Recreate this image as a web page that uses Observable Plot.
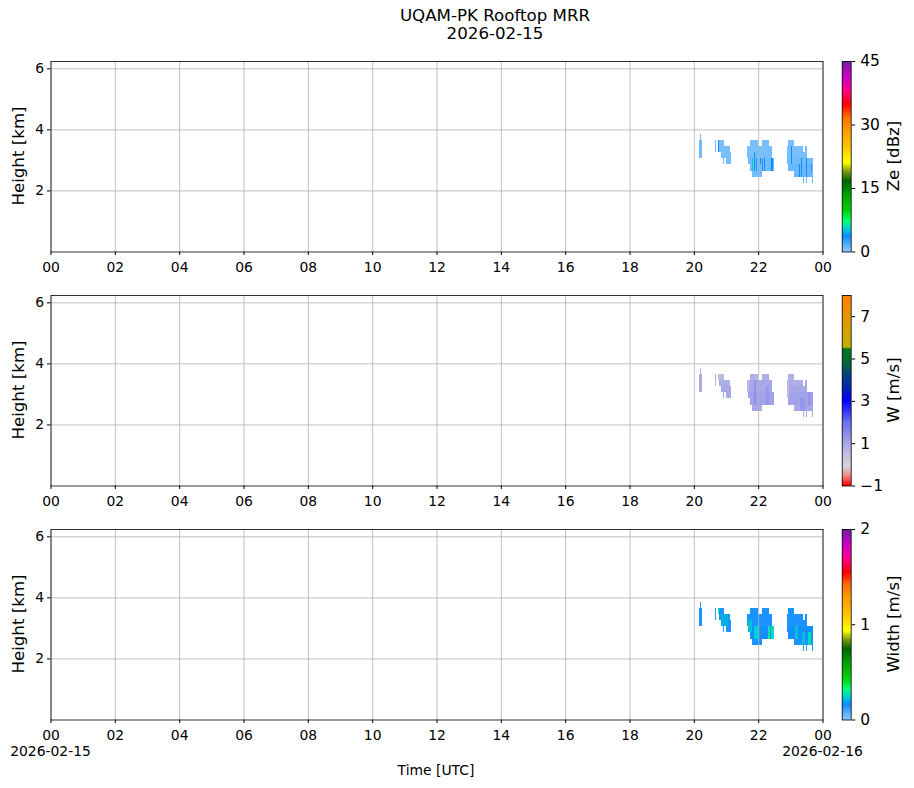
<!DOCTYPE html>
<html><head><meta charset="utf-8">
<script src="https://cdn.jsdelivr.net/npm/d3@7"></script>
<script src="https://cdn.jsdelivr.net/npm/@observablehq/plot@0.6"></script>
<style>
body{margin:0;background:#fff;}
#fig{position:relative;width:914px;height:788px;font-family:"DejaVu Sans",sans-serif;color:#000;overflow:hidden;background:#fff;}
#fig svg{position:absolute;overflow:visible;}
.lbl{position:absolute;white-space:nowrap;line-height:1;}
.c{transform:translate(-50%,-50%);}
.rot{transform:translate(-50%,-50%) rotate(-90deg);}
</style></head><body><div id="fig"></div>
<script>
// ---------- axis ticks ----------
const hourTicks = [0,2,4,6,8,10,12,14,16,18,20,22,24];
const heightTicks = [2,4,6];
const zeTicks = [0,15,30,45];
const wTicks = [-1,1,3,5,7];
const swTicks = [0,1,2];
const dateLeft = "2026-02-15";
const dateRight = "2026-02-16";
const titleLines = ["UQAM-PK Rooftop MRR", "2026-02-15"];

// ---------- echo runs (hour start, hour end, bottom km, top km) with values ----------
const runStart = [20.19,20.17,20.66,20.74,20.77,20.84,20.92,21.00,21.75,22.12,21.64,21.64,21.69,21.75,21.80,22.92,22.89,23.46,22.89,22.89,22.92,23.11,23.40,23.50,23.60,23.68];
const runEnd   = [20.23,20.26,20.68,20.95,21.12,21.17,20.95,21.17,21.98,22.35,22.42,22.42,22.49,22.49,22.11,23.11,23.40,23.51,23.51,23.71,23.71,23.71,23.42,23.52,23.62,23.70];
const runBottom= [3.65,3.05,3.25,3.45,3.25,3.05,2.85,2.85,3.45,3.45,3.25,3.05,2.85,2.65,2.45,3.45,3.25,3.25,3.05,2.85,2.65,2.45,2.25,2.25,2.25,2.25];
const runTop   = [3.85,3.65,3.65,3.65,3.45,3.25,3.05,3.05,3.65,3.65,3.45,3.25,3.05,2.85,2.65,3.65,3.45,3.45,3.25,3.05,2.85,2.65,2.45,2.45,2.45,2.45];
const runZe    = [1.0,0.8,1.0,0.6,0.6,0.6,0.8,0.6,0.6,0.6,0.6,0.6,0.8,0.8,0.8,0.6,0.6,0.6,0.6,0.8,1.0,1.0,1.0,1.0,1.0,1.0];
const runW     = [0.8,0.9,0.8,0.6,0.9,1.0,1.0,1.0,0.8,0.9,1.0,1.0,1.1,1.1,1.0,0.8,0.9,1.0,1.0,1.1,1.1,1.0,1.0,1.0,1.0,1.0];
const runSW    = [0.12,0.14,0.12,0.14,0.14,0.14,0.14,0.14,0.14,0.14,0.14,0.14,0.15,0.15,0.14,0.14,0.14,0.14,0.14,0.15,0.15,0.14,0.14,0.14,0.14,0.14];

// ---------- local stripes drawn over the runs ----------
const zePatchStart = [20.21,20.74,21.77,21.81,21.88,21.94,22.06,22.12,22.19,22.26,22.33,22.40,22.27,23.03,23.14,23.20,23.28,23.34,23.42,23.50,23.57,23.63];
const zePatchEnd   = [20.23,20.77,21.79,21.85,21.90,21.96,22.08,22.14,22.21,22.28,22.35,22.45,22.29,23.05,23.16,23.22,23.30,23.37,23.44,23.53,23.59,23.66];
const zePatchBottom= [3.25,3.25,2.65,2.65,2.65,2.65,2.85,2.65,2.65,2.65,2.65,2.65,3.05,2.85,2.65,2.65,2.45,2.45,2.45,2.45,2.45,2.65];
const zePatchTop   = [3.45,3.65,3.65,3.05,3.25,3.05,3.05,3.05,3.05,3.05,3.05,3.05,3.45,3.45,3.05,3.05,2.85,3.05,2.85,3.05,2.85,2.85];
const zePatchValue = [3.0,3.5,3.5,5.5,3.5,3.0,3.5,3.0,3.5,3.0,3.5,3.5,2.5,3.5,3.0,3.5,3.5,3.5,3.0,3.5,3.5,3.0];

const wPatchStart = [21.64,21.86,22.25,22.89,23.30,23.55];
const wPatchEnd   = [21.70,21.92,22.35,22.95,23.45,23.65];
const wPatchBottom= [3.05,2.65,2.65,2.85,2.45,2.65];
const wPatchTop   = [3.45,3.45,3.25,3.45,2.85,3.05];
const wPatchValue = [0.6,1.4,1.3,0.6,1.3,1.3];

const swPatchStart = [20.74,20.84,21.69,21.86,22.30,22.40,23.15,23.35,23.55];
const swPatchEnd   = [20.77,21.05,21.80,22.02,22.36,22.49,23.25,23.45,23.65];
const swPatchBottom= [3.45,3.05,2.85,2.65,2.65,2.65,2.65,2.45,2.45];
const swPatchTop   = [3.65,3.45,3.25,3.05,3.05,3.05,3.05,2.85,2.85];
const swPatchValue = [0.32,0.20,0.22,0.24,0.28,0.25,0.22,0.22,0.26];

// ---------- colour maps ----------
const spectrumFrac = [0,0.04,0.08,0.125,0.16,0.22,0.30,0.37,0.42,0.467,0.55,0.64,0.71,0.77,0.85,0.92,1];
const spectrumColors = ["#8cc8ff","#50acff","#0a8cff","#00d8c8","#00ff70","#00d000","#00a000","#006400","#7a9a10","#ffff00","#ffc400","#ff9a00","#ff6a00","#ff0000","#ff0090","#c800c8","#7020a0"];
const wStops = [-1,-0.5,-0.1,0.4,1.0,2.0,3.0,3.8,4.4,4.6,5.45,5.55,6.5,8];
const wColors = ["#ff0000","#f09090","#d4d4d4","#c4c4e0","#a8a8e8","#6c6cf4","#0000ff","#0030a0","#004a70","#006040","#007a20","#c0b000","#d8a000","#ff8000"];

const zeDomain = [0,45], swDomain = [0,2], wDomain = [-1,8];
const zeColor = {type:"linear", domain: spectrumFrac.map(f => zeDomain[0] + f*(zeDomain[1]-zeDomain[0])), range: spectrumColors, clamp:true};
const swColor = {type:"linear", domain: spectrumFrac.map(f => swDomain[0] + f*(swDomain[1]-swDomain[0])), range: spectrumColors, clamp:true};
const wColor  = {type:"linear", domain: wStops, range: wColors, clamp:true};

// ---------- build records ----------
function records(t0, t1, h0, h1, v) {
  return t0.map((_, i) => ({t0: t0[i], t1: t1[i], h0: h0[i], h1: h1[i], v: v[i]}));
}
const zeRecs = records(runStart, runEnd, runBottom, runTop, runZe).concat(records(zePatchStart, zePatchEnd, zePatchBottom, zePatchTop, zePatchValue));
const wRecs  = records(runStart, runEnd, runBottom, runTop, runW).concat(records(wPatchStart, wPatchEnd, wPatchBottom, wPatchTop, wPatchValue));
const swRecs = records(runStart, runEnd, runBottom, runTop, runSW).concat(records(swPatchStart, swPatchEnd, swPatchBottom, swPatchTop, swPatchValue));

// ---------- layout ----------
const fig = document.getElementById("fig");
const FONT = "DejaVu Sans";
const frameTops = [61, 295, 529];
const MT = 10, MB = 30.5, H = 231;

function addLabel(text, x, y, size, cls) {
  const d = document.createElement("div");
  d.className = "lbl " + cls;
  d.style.left = x + "px"; d.style.top = y + "px"; d.style.fontSize = size + "px";
  d.textContent = text;
  fig.appendChild(d);
}

function panel(recs, colorOpts, top) {
  const svg = Plot.plot({
    width: 830, height: H, marginLeft: 50.5, marginRight: 7.5, marginTop: MT, marginBottom: MB,
    x: {domain: [0, 24], label: null},
    y: {domain: [0, 6.24], label: null},
    color: colorOpts,
    style: {fontFamily: FONT, fontSize: "13.9px", color: "#000", background: "transparent"},
    marks: [
      Plot.rect(recs, {x1: "t0", x2: "t1", y1: "h0", y2: "h1", fill: "v", shapeRendering: "crispEdges"}),
      Plot.gridX(hourTicks, {stroke: "#b0b0b0", strokeOpacity: 1, strokeWidth: 0.8}),
      Plot.gridY(heightTicks, {stroke: "#b0b0b0", strokeOpacity: 1, strokeWidth: 0.8}),
      Plot.axisX({ticks: hourTicks, tickSize: 3.5, tickPadding: 7, label: null, tickFormat: d => String(d % 24).padStart(2, "0")}),
      Plot.axisY({ticks: heightTicks, tickSize: 3.5, tickPadding: 3.5, label: null, tickFormat: d => String(d)}),
      Plot.frame({stroke: "#000", strokeWidth: 0.8})
    ]
  });
  svg.style.left = "0px"; svg.style.top = (top - MT) + "px";
  fig.appendChild(svg);
}

function colorbar(colorOpts, dom, ticks, top) {
  const n = 300;
  const steps = d3.range(n).map(i => {
    const v0 = dom[0] + (dom[1] - dom[0]) * i / n, v1 = dom[0] + (dom[1] - dom[0]) * (i + 1) / n;
    return {v0, v1, v: (v0 + v1) / 2};
  });
  const svg = Plot.plot({
    width: 84, height: H, marginLeft: 11.7, marginRight: 63.3, marginTop: MT, marginBottom: MB,
    x: {domain: [0, 1], axis: null},
    y: {domain: dom, label: null},
    color: colorOpts,
    style: {fontFamily: FONT, fontSize: "15.5px", color: "#000", background: "transparent"},
    marks: [
      Plot.rect(steps, {x1: 0, x2: 1, y1: "v0", y2: "v1", fill: "v", shapeRendering: "crispEdges"}),
      Plot.axisY({anchor: "right", ticks, tickSize: 3.5, tickPadding: 5.5, label: null, tickFormat: d => String(d).replace("-", "\u2212")}),
      Plot.frame({stroke: "#000", strokeWidth: 0.8})
    ]
  });
  svg.style.left = "830px"; svg.style.top = (top - MT) + "px";
  fig.appendChild(svg);
}

panel(zeRecs, zeColor, frameTops[0]);
panel(wRecs, wColor, frameTops[1]);
panel(swRecs, swColor, frameTops[2]);
colorbar(zeColor, zeDomain, zeTicks, frameTops[0]);
colorbar(wColor, wDomain, wTicks, frameTops[1]);
colorbar(swColor, swDomain, swTicks, frameTops[2]);

const cbLabels = ["Ze [dBz]", "W [m/s]", "Width [m/s]"];
frameTops.forEach((t, i) => {
  addLabel("Height [km]", 18.5, t + 95, 16.67, "rot");
  addLabel(cbLabels[i], 894, t + 95, 16.67, "rot");
});
addLabel(titleLines[0], 495, 16, 16.67, "c");
addLabel(titleLines[1], 495, 33.7, 16.67, "c");
addLabel(dateLeft, 50.5, 752, 13.9, "c");
addLabel(dateRight, 822.5, 752, 13.9, "c");
addLabel("Time [UTC]", 436, 771, 13.9, "c");
</script></body></html>
